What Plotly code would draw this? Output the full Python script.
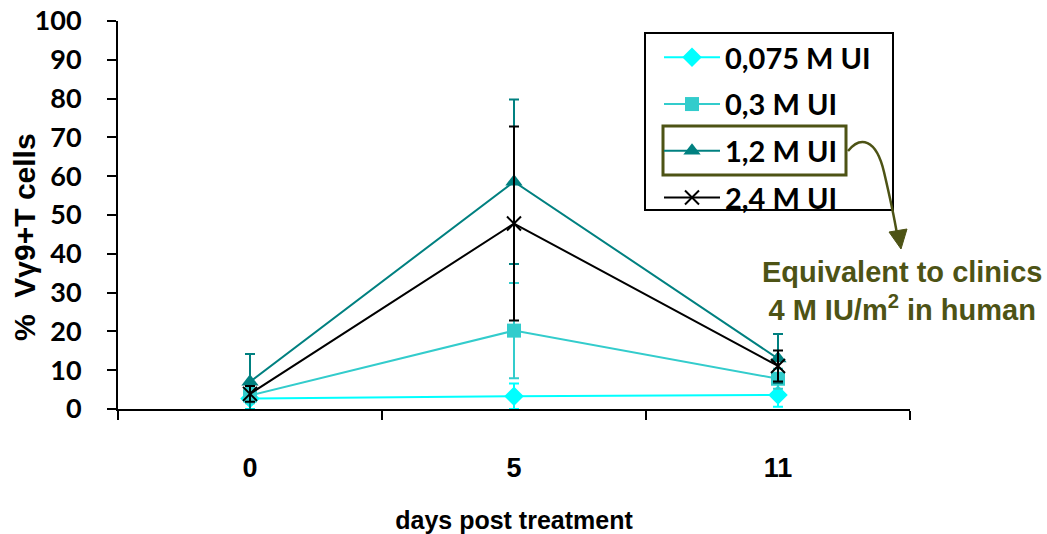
import plotly.graph_objects as go

days = ["0", "5", "11"]
series_names = ["0,075 M UI", "0,3 M UI", "1,2 M UI", "2,4 M UI"]
v_0075 = [2.7, 3.3, 3.6]
e_0075 = [2.7, 3.3, 3.0]
v_03 = [3.5, 20.2, 7.8]
e_03 = [2.0, 12.3, 2.6]
v_12 = [7.0, 58.6, 13.0]
e_12 = [7.2, 21.2, 6.3]
v_24 = [3.9, 47.8, 11.1]
e_24 = [2.0, 25.0, 4.0]
y_ticks = list(range(0, 101, 10))

values = [v_0075, v_03, v_12, v_24]
errors = [e_0075, e_03, e_12, e_24]
colors = ["#00FFFF", "#33CCCC", "#008080", "#000000"]
symbols = ["diamond", "square", "triangle-up", "x-thin-open"]
sizes = [15, 14, 15, 14]

xpos = list(range(len(days)))

W, H = 1047, 534
L, R, T, B = 118, 137, 21, 125
PW, PH = W - L - R, H - T - B


def px(x):
    return (x - L) / PW


def py(y):
    return (H - B - y) / PH


fig = go.Figure()
for i, name in enumerate(series_names):
    c = colors[i]
    marker = dict(symbol=symbols[i], size=sizes[i], color=c)
    if symbols[i] == "x-thin-open":
        marker["line"] = dict(color=c, width=2)
    fig.add_trace(go.Scatter(
        x=xpos, y=values[i], name="<b>" + name + "</b>", mode="lines+markers",
        line=dict(color=c, width=2), marker=marker,
        legendgroup=name,
        error_y=dict(type="data", array=errors[i], visible=True,
                     color=c, thickness=2, width=5),
    ))

sans = "Liberation Sans, Arial, sans-serif"
gill = "Lato, Open Sans, sans-serif"

fig.update_layout(
    width=W, height=H,
    margin=dict(l=L, r=R, t=T, b=B, autoexpand=False),
    plot_bgcolor="white", paper_bgcolor="white",
    showlegend=True,
    legend=dict(
        x=px(659), y=py(32), xanchor="left", yanchor="top",
        borderwidth=0, bgcolor="rgba(0,0,0,0)",
        font=dict(family=gill, size=29, color="black", weight="bold"),
        itemwidth=56, tracegroupgap=6,
    ),
    xaxis=dict(
        range=[-0.5, 2.5], tickvals=xpos, ticktext=days,
        ticks="", showgrid=False, zeroline=False,
        showline=True, linecolor="black", linewidth=2,
        tickfont=dict(family=sans, size=27, color="black", weight="bold"),
        ticklabelstandoff=34,
        minor=dict(tickmode="array", tickvals=[-0.5, 0.5, 1.5, 2.5],
                   ticks="outside", ticklen=9, tickwidth=2, tickcolor="black"),
        title=dict(text="days post treatment", standoff=30,
                   font=dict(family=sans, size=25, color="black", weight="bold")),
    ),
    yaxis=dict(
        range=[0, 100], tickvals=y_ticks, ticks="outside", ticklen=9,
        tickwidth=2, tickcolor="black", showgrid=False, zeroline=False,
        showline=True, linecolor="black", linewidth=2,
        tickfont=dict(family=gill, size=27, color="black", weight="bold"),
        ticklabelstandoff=20,
    ),
)

# y-axis title
fig.add_annotation(
    xref="paper", yref="paper", x=px(24), y=py(237),
    text="%\u00a0\u00a0Vγ9+T cells", textangle=-90, showarrow=False,
    xanchor="center", yanchor="middle",
    font=dict(family=sans, size=30, color="black", weight="bold"),
)

# legend frame
fig.add_shape(type="rect", xref="paper", yref="paper",
              x0=px(645), x1=px(893), y0=py(210), y1=py(33),
              line=dict(color="black", width=2), fillcolor="rgba(0,0,0,0)",
              layer="above")

olive = "#4D5315"
# highlight box around 1,2 M UI legend entry
fig.add_shape(type="rect", xref="paper", yref="paper",
              x0=px(663), x1=px(846), y0=py(175), y1=py(126),
              line=dict(color=olive, width=3))
# curved connector
path = "M {} {} C {} {}, {} {}, {} {} S {} {}, {} {}".format(
    px(848), py(151), px(860), py(136), px(876), py(138), px(884), py(172),
    px(895), py(222), px(897), py(234))
fig.add_shape(type="path", xref="paper", yref="paper", path=path,
              line=dict(color=olive, width=2.5))
head = "M {} {} L {} {} L {} {} Z".format(
    px(889), py(232), px(907), py(229), px(901), py(249))
fig.add_shape(type="path", xref="paper", yref="paper", path=head,
              line=dict(color=olive, width=1), fillcolor=olive)

fig.add_annotation(
    xref="paper", yref="paper", x=px(902), y=py(291),
    text="Equivalent to clinics<br>4 M IU/m<sup>2</sup> in human",
    showarrow=False, xanchor="center", yanchor="middle",
    font=dict(family=sans, size=29, color=olive, weight="bold"),
)

fig.write_html("out.html")
